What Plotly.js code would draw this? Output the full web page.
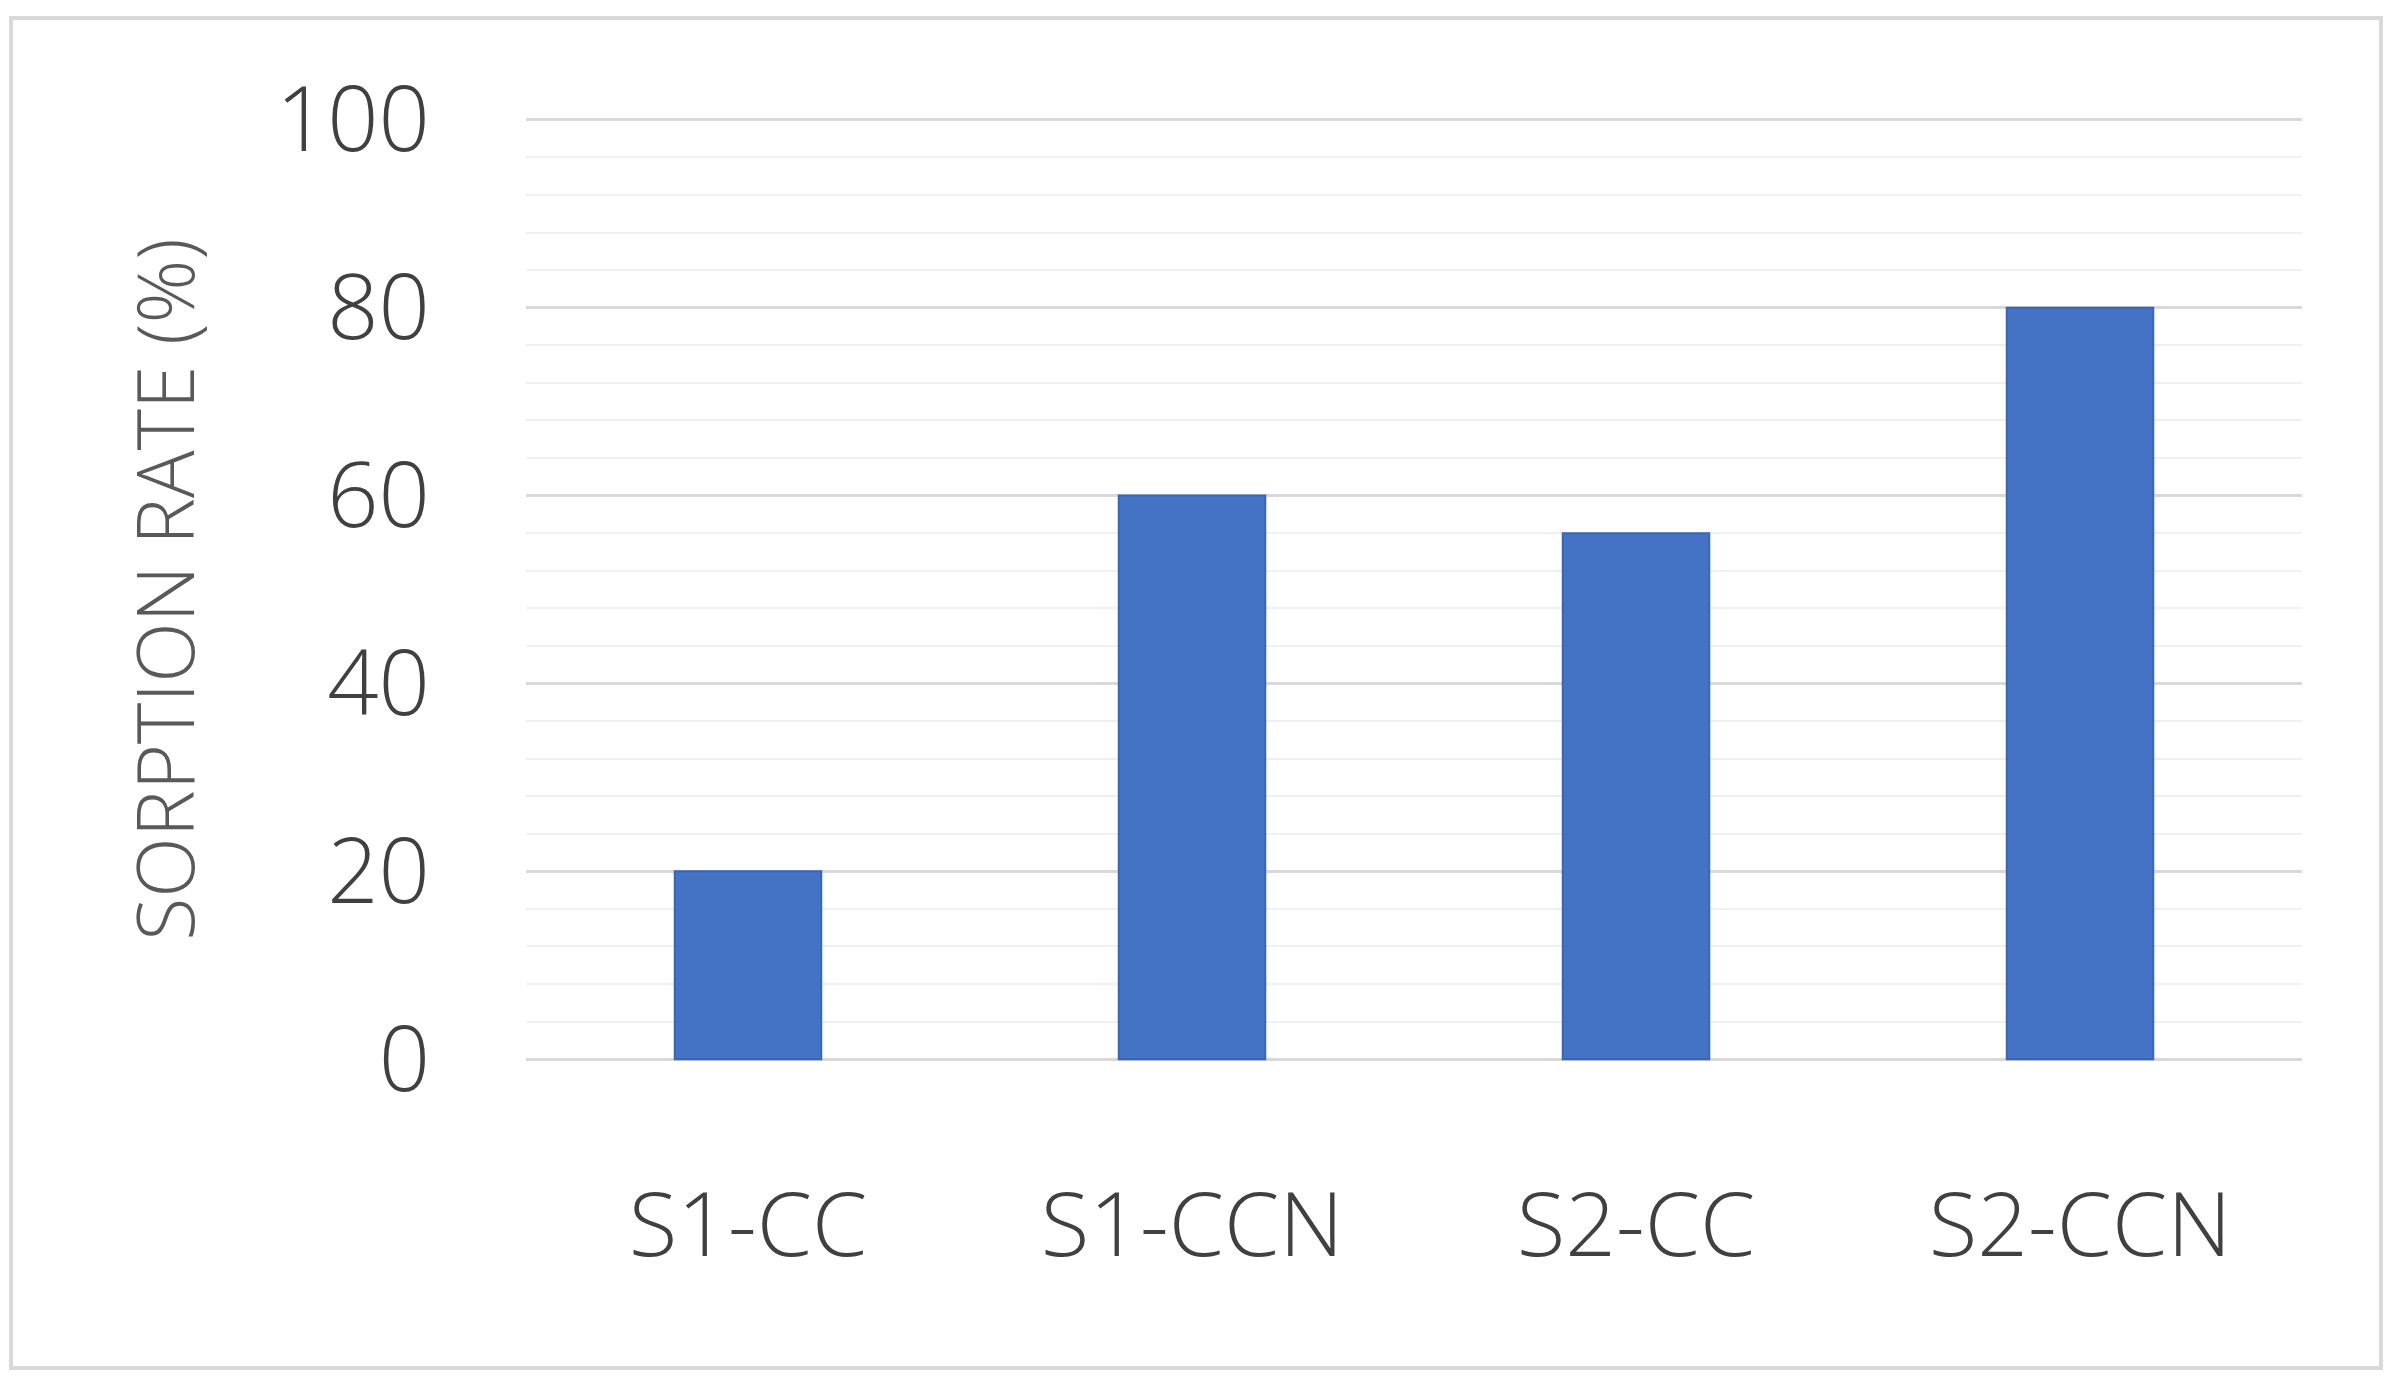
<!DOCTYPE html>
<html>
<head>
<meta charset="utf-8">
<script src="https://cdn.plot.ly/plotly-3.0.1.min.js"></script>
<style>
html, body { margin: 0; padding: 0; background: #ffffff; }
#wrap { position: relative; width: 2398px; height: 1379px; }
#chart { position: absolute; left: 0; top: 0; width: 2398px; height: 1379px; }
#frame { position: absolute; left: 9px; top: 16px; width: 2366px; height: 1346px; border: 4px solid #d9d9d9; pointer-events: none; }
</style>
</head>
<body>
<div id="wrap">
  <div id="chart"></div>
  <div id="frame"></div>
</div>
<script>
const categories = ["S1-CC", "S1-CCN", "S2-CC", "S2-CCN"];
const sorptionRate = [20, 60, 56, 80];
const yTickValues = [0, 20, 40, 60, 80, 100];
const yMinorTickValues = [4, 8, 12, 16, 24, 28, 32, 36, 44, 48, 52, 56, 64, 68, 72, 76, 84, 88, 92, 96];
const yAxisTitle = "SORPTION RATE (%)";

const trace = {
  type: "bar",
  x: categories,
  y: sorptionRate,
  marker: { color: "#4472c4", line: { color: "#3a66b8", width: 2 } },
  hoverinfo: "x+y"
};

const layout = {
  width: 2398,
  height: 1379,
  paper_bgcolor: "#ffffff",
  plot_bgcolor: "#ffffff",
  margin: { l: 526, r: 96, t: 117, b: 317 },
  bargap: 0.67,
  showlegend: false,
  font: { family: "'Open Sans', 'Noto Sans', sans-serif", color: "#595959" },
  xaxis: {
    type: "category",
    showgrid: false,
    zeroline: false,
    showline: false,
    ticks: "",
    tickfont: { size: 89, color: "#404040", weight: 300 },
    ticklabelstandoff: 104
  },
  yaxis: {
    range: [-0.3, 100.3],
    tickmode: "array",
    tickvals: yTickValues,
    ticktext: yTickValues.map(String),
    showgrid: true,
    gridcolor: "#d9d9d9",
    gridwidth: 3,
    minor: { tickmode: "array", tickvals: yMinorTickValues, showgrid: true, gridcolor: "#f0f0f0", gridwidth: 2, ticks: "" },
    zeroline: false,
    showline: false,
    ticks: "",
    tickfont: { size: 90, color: "#404040", weight: 300 },
    ticklabelstandoff: 95,
    title: { text: yAxisTitle, font: { size: 79, color: "#595959", weight: 300 }, standoff: 55 },
    fixedrange: true
  }
};

Plotly.newPlot("chart", [trace], layout, { displayModeBar: false, staticPlot: true });
</script>
</body>
</html>
